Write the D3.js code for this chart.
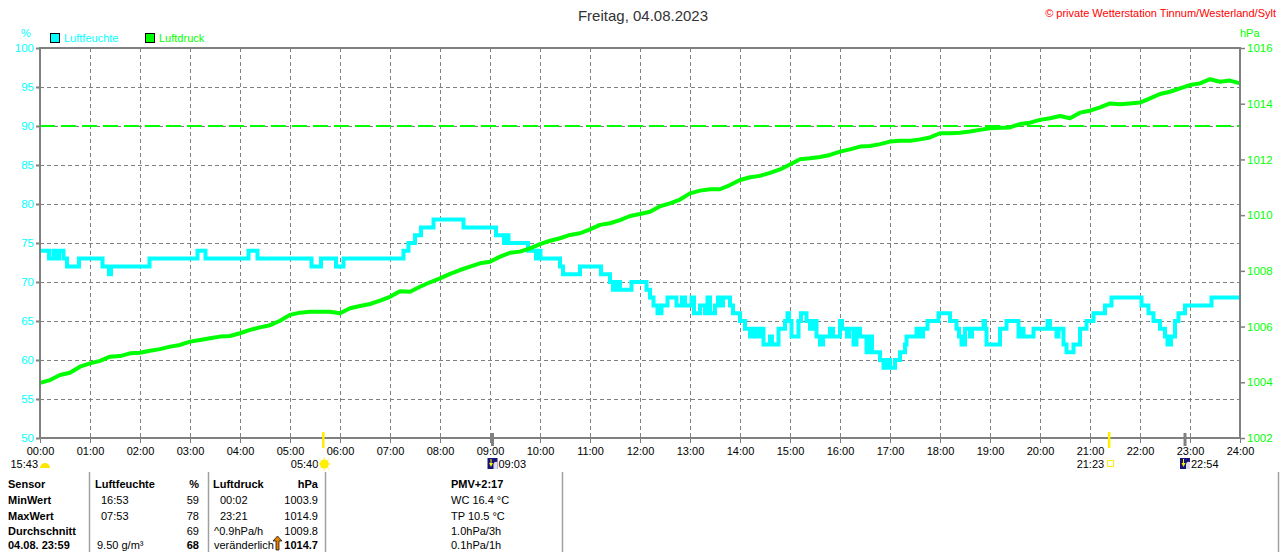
<!DOCTYPE html>
<html>
<head>
<meta charset="utf-8">
<style>
    body { margin: 0; background: #fff; }
    svg text { font-family: "Liberation Sans", Arial, sans-serif; font-size: 11px; }
</style>
</head>
<body>
<svg id="chart" width="1280" height="552"></svg>
<script src="https://d3js.org/d3.v7.min.js"></script>
<script>
    // tick labels
    const hourLabels = ["00:00","01:00","02:00","03:00","04:00","05:00","06:00","07:00","08:00","09:00","10:00","11:00",
        "12:00","13:00","14:00","15:00","16:00","17:00","18:00","19:00","20:00","21:00","22:00","23:00","24:00"];
    const humTicks = [50, 55, 60, 65, 70, 75, 80, 85, 90, 95, 100];
    const presTicks = [1002, 1004, 1006, 1008, 1010, 1012, 1014, 1016];

    // humidity, step changes (hour of day -> %)
    const humTimes = [0,0.18,0.27,0.33,0.38,0.47,0.54,0.78,1.25,1.38,1.42,2.19,3.15,3.31,4.17,4.35,5.43,5.62,5.92,6.07,
        7.27,7.37,7.5,7.62,7.87,8.47,9.12,9.28,9.32,9.37,9.76,9.92,9.97,10.01,10.4,10.46,10.8,11.22,11.4,11.46,
        11.52,11.6,11.83,12.13,12.2,12.27,12.35,12.43,12.55,12.73,12.84,12.9,13.03,13.08,13.2,13.3,13.35,13.4,13.5,13.56,
        13.62,13.66,13.8,13.86,14.0,14.1,14.2,14.26,14.34,14.4,14.47,14.6,14.64,14.77,14.9,14.95,14.98,15.03,15.17,15.22,
        15.33,15.4,15.45,15.53,15.6,15.66,15.8,15.86,16.0,16.04,16.14,16.18,16.27,16.33,16.4,16.53,16.6,16.64,16.8,16.87,
        16.95,17.0,17.1,17.2,17.3,17.33,17.53,17.6,17.66,17.75,17.97,18.2,18.33,18.38,18.43,18.5,18.6,18.64,18.87,18.9,
        18.93,19.2,19.33,19.57,19.63,19.67,19.87,20.15,20.2,20.33,20.37,20.47,20.53,20.67,20.8,20.93,21.07,21.3,21.43,22.03,
        22.17,22.27,22.4,22.5,22.55,22.62,22.7,22.77,22.9,23.43,24];
    const humValues = [74,73,74,73,74,73,72,73,72,71,72,73,74,73,74,73,72,73,72,73,
        74,75,76,77,78,77,76,75,76,75,74,73,74,73,72,71,72,71,70,69,
        70,69,70,69,68,67,66,67,68,67,68,67,68,66,67,66,68,66,67,68,
        67,68,67,66,65,64,63,64,63,64,62,63,62,64,65,66,65,63,65,66,
        65,64,65,63,62,63,64,63,65,64,63,64,62,64,63,61,63,61,60,59,
        60,59,60,61,62,63,64,63,64,65,66,65,64,63,62,64,63,64,65,64,
        62,64,65,63,64,63,64,65,64,63,64,62,61,62,64,65,66,67,68,67,
        66,65,64,63,62,63,65,66,67,68,68];

    // air pressure, one reading every 12 minutes from 00:00 to 24:00 (hPa)
    const presStep = 0.2;
    const presValues = [
        1003.98,1004.08,1004.26,1004.34,1004.56,1004.68,1004.77,1004.92,1004.94,1005.04,
        1005.06,1005.13,1005.19,1005.28,1005.34,1005.46,1005.52,1005.58,1005.64,1005.66,
        1005.76,1005.88,1005.97,1006.05,1006.21,1006.42,1006.50,1006.53,1006.53,1006.53,
        1006.48,1006.66,1006.74,1006.81,1006.93,1007.07,1007.27,1007.25,1007.43,1007.59,
        1007.73,1007.89,1008.03,1008.15,1008.27,1008.33,1008.51,1008.65,1008.69,1008.81,
        1008.96,1009.08,1009.17,1009.29,1009.35,1009.49,1009.65,1009.71,1009.82,1009.97,
        1010.04,1010.12,1010.32,1010.42,1010.56,1010.78,1010.88,1010.93,1010.93,1011.08,
        1011.26,1011.36,1011.41,1011.52,1011.64,1011.82,1012.01,1012.04,1012.09,1012.16,
        1012.28,1012.36,1012.46,1012.48,1012.55,1012.64,1012.67,1012.67,1012.72,1012.79,
        1012.94,1012.94,1012.96,1013.00,1013.06,1013.12,1013.14,1013.15,1013.27,1013.32,
        1013.42,1013.48,1013.56,1013.48,1013.68,1013.75,1013.87,1014.01,1013.98,1014.01,
        1014.04,1014.19,1014.35,1014.43,1014.55,1014.67,1014.73,1014.88,1014.79,1014.83,
        1014.73];
    const presRef = 1013.2;

    // sun / moon times (hour of day)
    const sunrise = 5 + 40 / 60, sunset = 21 + 23 / 60;
    const moonrise = 9 + 3 / 60, moonset = 22 + 54 / 60;

    // table below the chart
    const tableRows = [
        ["Sensor", "", "", "", "", "PMV+2:17"],
        ["MinWert", "16:53", "59", "00:02", "1003.9", "WC 16.4 °C"],
        ["MaxWert", "07:53", "78", "23:21", "1014.9", "TP 10.5 °C"],
        ["Durchschnitt", "", "69", "^0.9hPa/h", "1009.8", "1.0hPa/3h"],
        ["04.08. 23:59", "9.50 g/m³", "68", "veränderlich", "1014.7", "0.1hPa/1h"]
    ];

    const svg = d3.select("#chart");
    const plotLeft = 40, plotRight = 1240, plotTop = 48, plotBottom = 438;
    const gray = "#808080";

    let x = d3.scaleLinear().domain([0, 24]).range([plotLeft, plotRight]);
    let yHum = d3.scaleLinear().domain([50, 100]).range([plotBottom, plotTop]);
    let yPres = d3.scaleLinear().domain([1002, 1016]).range([plotBottom, plotTop]);

    // title + copyright
    svg.append("text").attr("x", 643).attr("y", 21).attr("text-anchor", "middle")
        .style("font-size", "15px").attr("fill", "#333").text("Freitag, 04.08.2023");
    svg.append("text").attr("x", 1276).attr("y", 17).attr("text-anchor", "end")
        .style("font-size", "11px").attr("fill", "#ff0000").text("© private Wetterstation Tinnum/Westerland/Sylt");

    // grid
    let grid = svg.append("g").attr("stroke", gray).attr("stroke-width", 1).attr("stroke-dasharray", "4,3");
    grid.selectAll("line.h").data(humTicks.filter(d => d > 50 && d < 100)).enter().append("line")
        .attr("x1", plotLeft).attr("x2", plotRight).attr("y1", d => yHum(d) + 0.5).attr("y2", d => yHum(d) + 0.5);
    grid.selectAll("line.v").data(d3.range(1, 24)).enter().append("line")
        .attr("y1", plotTop).attr("y2", plotBottom)
        .attr("x1", d => Math.round(x(d)) + 0.5).attr("x2", d => Math.round(x(d)) + 0.5);

    // reference line 1013.2 hPa
    svg.append("line").attr("x1", plotLeft).attr("x2", plotRight)
        .attr("y1", yPres(presRef)).attr("y2", yPres(presRef))
        .attr("stroke", "#00ff00").attr("stroke-width", 2).attr("stroke-dasharray", "15,6");

    // humidity step line
    let humData = humTimes.map((t, i) => [t, humValues[i]]);
    let humLine = d3.line().x(d => x(d[0])).y(d => yHum(d[1])).curve(d3.curveStepAfter);
    svg.append("path").datum(humData).attr("d", humLine)
        .attr("fill", "none").attr("stroke", "#00ffff").attr("stroke-width", 4);

    // pressure line
    let presData = presValues.map((p, i) => [i * presStep, p]);
    let presLine = d3.line().x(d => x(d[0])).y(d => yPres(d[1]));
    svg.append("path").datum(presData).attr("d", presLine)
        .attr("fill", "none").attr("stroke", "#00ff00").attr("stroke-width", 4).attr("stroke-linejoin", "round");

    // frame
    svg.append("rect").attr("x", plotLeft).attr("y", plotTop)
        .attr("width", plotRight - plotLeft).attr("height", plotBottom - plotTop)
        .attr("fill", "none").attr("stroke", gray).attr("stroke-width", 2);

    // left axis (humidity)
    let yAxisL = d3.axisLeft(yHum).tickValues(humTicks).tickFormat(d3.format("d"))
        .tickSize(4).tickSizeOuter(0).tickPadding(2);
    let gL = svg.append("g").attr("transform", `translate(${plotLeft},0)`).call(yAxisL);
    gL.select(".domain").remove();
    gL.selectAll("line").attr("stroke", gray).attr("stroke-width", 2);
    gL.selectAll("text").attr("fill", "#00ffff").style("font-size", "11.5px").attr("font-family", null);

    // right axis (pressure)
    let yAxisR = d3.axisRight(yPres).tickValues(presTicks).tickFormat(d3.format("d"))
        .tickSize(5).tickSizeOuter(0).tickPadding(2);
    let gR = svg.append("g").attr("transform", `translate(${plotRight},0)`).call(yAxisR);
    gR.select(".domain").remove();
    gR.selectAll("line").attr("stroke", gray).attr("stroke-width", 1.5);
    gR.selectAll("text").attr("fill", "#00ff00").style("font-size", "11.5px").attr("font-family", null);

    // bottom axis (hours)
    let xAxis = d3.axisBottom(x).tickValues(d3.range(0, 25)).tickFormat(d => hourLabels[d])
        .tickSize(5).tickSizeOuter(0).tickPadding(4);
    let gX = svg.append("g").attr("transform", `translate(0,${plotBottom})`).call(xAxis);
    gX.select(".domain").remove();
    gX.selectAll("line").attr("stroke", gray).attr("stroke-width", 1);
    gX.selectAll("text").attr("fill", "#000").attr("font-family", null);

    // units + legend
    svg.append("text").attr("x", 26).attr("y", 37).attr("text-anchor", "middle").attr("fill", "#00ffff").text("%");
    svg.append("text").attr("x", 1240).attr("y", 37).attr("fill", "#00ff00").text("hPa");
    let legend = [["Luftfeuchte", "#00ffff", 50], ["Luftdruck", "#00ff00", 145]];
    legend.forEach(l => {
        svg.append("rect").attr("x", l[2] + 0.5).attr("y", 33.5).attr("width", 9).attr("height", 9)
            .attr("fill", l[1]).attr("stroke", "#000").attr("stroke-width", 1);
        svg.append("text").attr("x", l[2] + 14).attr("y", 42).attr("fill", l[1]).text(l[0]);
    });

    // sun and moon markers on the time axis
    [sunrise, sunset].forEach(t => {
        svg.append("line").attr("x1", x(t)).attr("x2", x(t)).attr("y1", 432).attr("y2", 448)
            .attr("stroke", "#ffee00").attr("stroke-width", 2.5);
    });
    [moonrise, moonset].forEach(t => {
        svg.append("line").attr("x1", x(t)).attr("x2", x(t)).attr("y1", 433).attr("y2", 446)
            .attr("stroke", gray).attr("stroke-width", 3);
    });

    let iconY = 468;
    // day length
    svg.append("text").attr("x", 38).attr("y", iconY).attr("text-anchor", "end").text("15:43");
    svg.append("path").attr("d", d3.arc()({ innerRadius: 0, outerRadius: 5, startAngle: -Math.PI / 2, endAngle: Math.PI / 2 }))
        .attr("transform", `translate(45,${iconY})`).attr("fill", "#ffe600");
    // sunrise
    svg.append("text").attr("x", x(sunrise) - 5).attr("y", iconY).attr("text-anchor", "end").text("05:40");
    let sun = svg.append("g").attr("transform", `translate(${x(sunrise) + 1},${iconY - 4})`);
    d3.range(8).forEach(i => {
        let a = i * Math.PI / 4;
        sun.append("line").attr("x1", 0).attr("y1", 0).attr("x2", 7 * Math.cos(a)).attr("y2", 7 * Math.sin(a))
            .attr("stroke", "#ffee66").attr("stroke-width", 1);
    });
    sun.append("circle").attr("r", 4.5).attr("fill", "#ffee00");
    // sunset
    svg.append("text").attr("x", x(sunset) - 5).attr("y", iconY).attr("text-anchor", "end").text("21:23");
    svg.append("rect").attr("x", x(sunset) - 1.5).attr("y", iconY - 7.5).attr("width", 6).attr("height", 6)
        .attr("fill", "none").attr("stroke", "#ffee00").attr("stroke-width", 1);
    // moon rise / set
    [[moonrise, "09:03"], [moonset, "22:54"]].forEach(m => {
        let g = svg.append("g").attr("transform", `translate(${x(m[0]) - 5},${iconY - 10})`);
        g.append("rect").attr("width", 10).attr("height", 11).attr("fill", "#141478");
        g.append("path").attr("d", "M6,11 L6,6 A3,3 0 0 1 10,4 L10,11 Z").attr("fill", "#dde");
        g.append("path").attr("d", "M3,1 L3,5 L1.5,5 L3.5,9 L5.5,5 L4,5 L4,1 Z").attr("fill", "#ffee00");
        svg.append("text").attr("x", x(m[0]) + 6).attr("y", iconY).text(m[1]);
    });

    // table
    let seps = [89, 208, 325, 562, 1278];
    svg.selectAll("line.sep").data(seps).enter().append("line")
        .attr("x1", d => d + 0.5).attr("x2", d => d + 0.5).attr("y1", 472).attr("y2", 552)
        .attr("stroke", "#a0a0a0").attr("stroke-width", 1.5);

    let rowY = [488, 504, 520, 535, 549];
    let head = ["Luftfeuchte", "%", "Luftdruck", "hPa"];
    let tbl = svg.append("g");
    tableRows.forEach((r, i) => {
        let y = rowY[i];
        tbl.append("text").attr("x", 8).attr("y", y).attr("font-weight", "bold").text(r[0]);
        if (i === 0) {
            tbl.append("text").attr("x", 95).attr("y", y).attr("font-weight", "bold").text(head[0]);
            tbl.append("text").attr("x", 199).attr("y", y).attr("text-anchor", "end").attr("font-weight", "bold").text(head[1]);
            tbl.append("text").attr("x", 213).attr("y", y).attr("font-weight", "bold").text(head[2]);
            tbl.append("text").attr("x", 318).attr("y", y).attr("text-anchor", "end").attr("font-weight", "bold").text(head[3]);
        } else {
            tbl.append("text").attr("x", i === 4 ? 97 : 101).attr("y", y).text(r[1]);
            tbl.append("text").attr("x", 199).attr("y", y).attr("text-anchor", "end")
                .attr("font-weight", i === 4 ? "bold" : null).text(r[2]);
            tbl.append("text").attr("x", i >= 3 ? 214 : 220).attr("y", y).text(r[3]);
            tbl.append("text").attr("x", 318).attr("y", y).attr("text-anchor", "end")
                .attr("font-weight", i === 4 ? "bold" : null).text(r[4]);
        }
        tbl.append("text").attr("x", 451).attr("y", y).attr("font-weight", i === 0 ? "bold" : null).text(r[5]);
    });
    // trend arrow
    svg.append("path").attr("d", "M276,550 L276,541 L273,541 L277.5,536 L282,541 L279,541 L279,550 Z")
        .attr("fill", "#e08000").attr("stroke", "#000").attr("stroke-width", 0.7);
</script>
</body>
</html>
